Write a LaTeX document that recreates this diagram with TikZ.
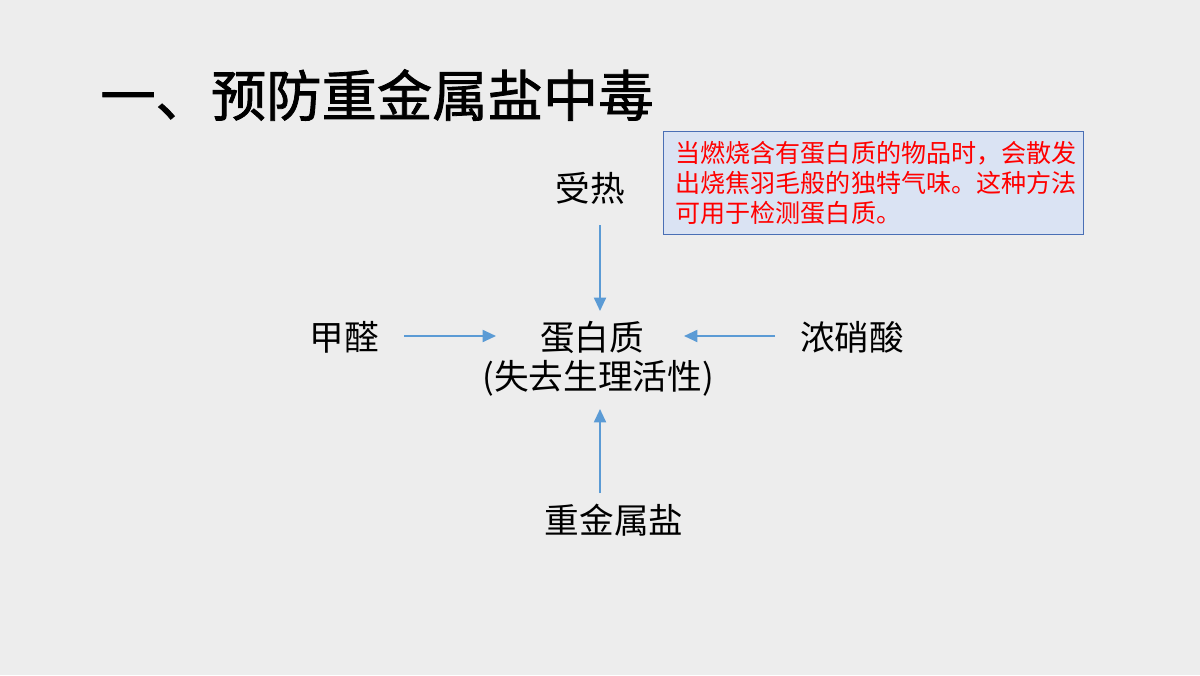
\documentclass[tikz,border=0pt]{standalone}
\usepackage{fontspec}
\newfontfamily\cjk{Noto Sans CJK SC}
\newfontfamily\cjkt[BoldFont={Noto Sans CJK SC}, BoldFeatures={FakeBold=1.4}]{Noto Sans CJK SC}
\usetikzlibrary{arrows.meta}
\definecolor{bgcol}{HTML}{EDEDED}
\definecolor{arrowblue}{HTML}{5B9BD5}
\definecolor{boxfill}{HTML}{DAE3F3}
\definecolor{boxline}{HTML}{4A6FB5}
\definecolor{notered}{HTML}{FF0000}
\tikzset{
  lbl/.style={font=\cjk\fontsize{26}{30}\selectfont, inner sep=0pt, text=black},
  arr/.style={draw=arrowblue, line width=1.4pt, -{Triangle[length=10pt,width=9pt]}},
  notebox/.style={draw=boxline, fill=boxfill, line width=0.8pt, text=notered,
    font=\cjk\fontsize{18.8}{22.5}\selectfont, align=left, text width=297pt,
    inner xsep=9pt, minimum height=77.25pt, anchor=north west},
  titlestyle/.style={font=\cjkt\bfseries\fontsize{41.5}{48}\selectfont, inner sep=0pt, anchor=west}
}
\begin{document}
\begin{tikzpicture}[x=0.75pt,y=-0.75pt]
\useasboundingbox (0,0) rectangle (1200,675);
\fill[bgcol] (0,0) rectangle (1200,675);
\node[titlestyle] (title) at (100,95) {一、预防重金属盐中毒};
\node[notebox] (note) at (663,131) {当燃烧含有蛋白质的物品时，会散发\\出烧焦羽毛般的独特气味。这种方法\\可用于检测蛋白质。};
\node[lbl] (heat) at (590,188) {受热};
\node[lbl] (prot) at (592,337) {蛋白质};
\node[lbl] (prot2) at (598,378) {(失去生理活性)};
\node[lbl] (hcho) at (344,337) {甲醛};
\node[lbl] (hno3) at (852,337) {浓硝酸};
\node[lbl] (metal) at (614,520) {重金属盐};
\coordinate (heatA) at (600,225);
\coordinate (heatB) at (600,311);
\coordinate (hchoA) at (404,336);
\coordinate (hchoB) at (496,336);
\coordinate (hno3A) at (775,336);
\coordinate (hno3B) at (684,336);
\coordinate (metalA) at (600,493);
\coordinate (metalB) at (600,409);
\draw[arr] (heatA) -- (heatB);
\draw[arr] (hchoA) -- (hchoB);
\draw[arr] (hno3A) -- (hno3B);
\draw[arr] (metalA) -- (metalB);
\end{tikzpicture}
\end{document}
